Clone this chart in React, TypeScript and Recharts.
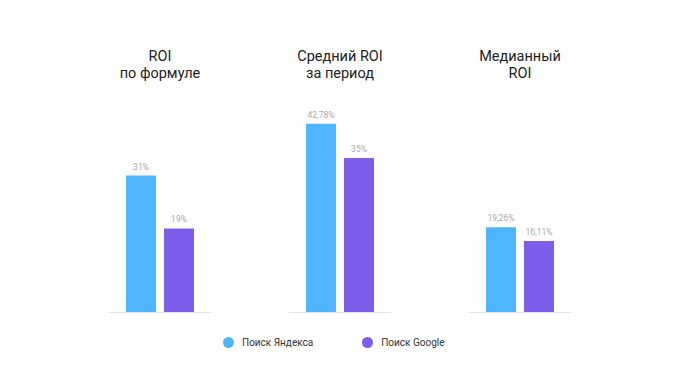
import React from 'react';
import { BarChart, Bar, XAxis, YAxis, Legend, LabelList } from 'recharts';

const categories = ['ROI по формуле', 'Средний ROI за период', 'Медианный ROI'];
const titleLines = [
  ['ROI', 'по формуле'],
  ['Средний ROI', 'за период'],
  ['Медианный', 'ROI'],
];
const yandexValues = [31, 42.78, 19.26];
const googleValues = [19, 35, 16.11];
const seriesNames = ['Поиск Яндекса', 'Поиск Google'];

const data = categories.map((name, i) => ({
  name,
  yandex: yandexValues[i],
  google: googleValues[i],
}));

const FONT = 'Roboto, "Noto Sans", sans-serif';
const BLUE = '#4FB6FE';
const PURPLE = '#7C5EEA';

const fmt = (v: any) => String(v).replace('.', ',') + '%';

const TitleTick = (props: any) => {
  const { x, y, index } = props;
  const lines = titleLines[index] || [];
  return (
    <g>
      {lines.map((t: string, i: number) => (
        <text
          key={i}
          x={x}
          y={y - 31 + i * 16.5}
          textAnchor="middle"
          fontSize={14.5}
          fontFamily={FONT}
          fill="#222"
        >
          {t}
        </text>
      ))}
    </g>
  );
};

const BaseTick = (props: any) => {
  const { x, y } = props;
  return <line x1={x - 51} x2={x + 51} y1={y + 0.5} y2={y + 0.5} stroke="#E6E6E6" strokeWidth={1} />;
};

const LegendContent = (props: any) => {
  const payload = [...(props.payload || [])].sort(
    (a: any, b: any) => seriesNames.indexOf(a.value) - seriesNames.indexOf(b.value)
  );
  return (
    <div style={{ display: 'flex', alignItems: 'center', paddingLeft: 223, fontFamily: FONT }}>
      {payload.map((p: any, i: number) => (
        <div key={i} style={{ display: 'flex', alignItems: 'center', marginRight: 49 }}>
          <span
            style={{
              display: 'inline-block',
              width: 11,
              height: 11,
              borderRadius: '50%',
              background: p.color,
              marginRight: 8,
            }}
          />
          <span style={{ fontSize: 10, color: '#333' }}>{p.value}</span>
        </div>
      ))}
    </div>
  );
};

export default function App() {
  return (
    <div style={{ position: 'absolute', left: 0, top: 0, width: 680, height: 382, background: '#fff' }}>
      <BarChart
        width={680}
        height={382}
        data={data}
        margin={{ top: 1, right: 70, left: 70, bottom: 0 }}
        barGap={8}
        barSize={30}
      >
        <XAxis
          xAxisId="top"
          orientation="top"
          dataKey="name"
          height={91}
          axisLine={false}
          tickLine={false}
          tickSize={0}
          tickMargin={0}
          tick={<TitleTick />}
          interval={0}
        />
        <XAxis
          xAxisId="bottom"
          orientation="bottom"
          dataKey="name"
          height={30}
          axisLine={false}
          tickLine={false}
          tickSize={0}
          tickMargin={0}
          tick={<BaseTick />}
          interval={0}
        />
        <YAxis hide domain={[0, 50]} />
        <Legend
          height={40}
          verticalAlign="bottom"
          itemSorter={null as any}
          wrapperStyle={{ top: 337, left: 0, width: 680 }}
          content={<LegendContent />}
        />
        <Bar xAxisId="bottom" dataKey="yandex" name={seriesNames[0]} fill={BLUE} isAnimationActive={false}>
          <LabelList dataKey="yandex" position="top" offset={6} formatter={fmt} fontSize={8.5} fill="#A8A8A8" fontFamily={FONT} />
        </Bar>
        <Bar xAxisId="bottom" dataKey="google" name={seriesNames[1]} fill={PURPLE} isAnimationActive={false}>
          <LabelList dataKey="google" position="top" offset={6} formatter={fmt} fontSize={8.5} fill="#A8A8A8" fontFamily={FONT} />
        </Bar>
      </BarChart>
    </div>
  );
}
